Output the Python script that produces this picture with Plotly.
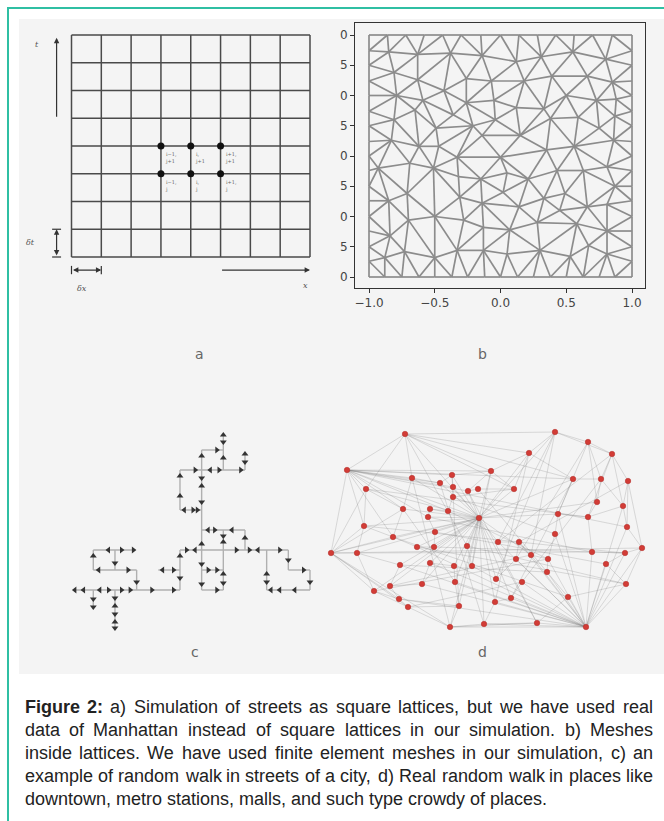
import plotly.graph_objects as go

W, H = 664, 821

# ---------------- panel a: space-time lattice ----------------
lattice_lines = [0, 1, 2, 3, 4, 5, 6, 7, 8]
node_i = [3, 4, 5, 3, 4, 5]
node_j = [4, 4, 4, 3, 3, 3]
node_text = ["i−1,<br>j+1", "i,<br>j+1", "i+1,<br>j+1", "i−1,<br>j", "i,<br>j", "i+1,<br>j"]

# ---------------- panel b: finite element mesh ----------------
mesh_top_x = [-1.0, -0.86, -0.72, -0.58, -0.44, -0.3, -0.15, 0.0, 0.14, 0.28, 0.42, 0.56, 0.7, 0.85, 1.0]
mesh_bottom_x = [-1.0, -0.88, -0.75, -0.62, -0.5, -0.37, -0.25, -0.12, 0.0, 0.13, 0.25, 0.38, 0.5, 0.63, 0.75, 0.87, 1.0]
mesh_left_y = [0.87, 0.75, 0.62, 0.5, 0.37, 0.25, 0.12, 0.0, -0.12, -0.25, -0.37, -0.5, -0.62, -0.75, -0.87]
mesh_right_y = [0.87, 0.75, 0.62, 0.5, 0.37, 0.25, 0.12, 0.0, -0.12, -0.25, -0.37, -0.5, -0.62, -0.75, -0.87]
mesh_inner_x = [
    -0.85, -0.63, -0.38, -0.14, 0.12, 0.31, 0.55, 0.80,
    -0.81, -0.63, -0.43, -0.26, -0.07, 0.18, 0.39, 0.66, 0.85,
    -0.79, -0.59, -0.26, -0.05, 0.12, 0.33, 0.50, 0.73, 0.88,
    -0.81, -0.65, -0.49, -0.36, -0.21, -0.04, 0.15, 0.38, 0.59, 0.75, 0.87,
    -0.83, -0.62, -0.47, -0.33, -0.14, 0.0, 0.35, 0.56, 0.86,
    -0.93, -0.69, -0.51, -0.32, -0.15, 0.05, 0.21, 0.43, 0.63, 0.81, 0.87,
    -0.85, -0.71, -0.50, -0.31, -0.14, 0.02, 0.14, 0.33, 0.49, 0.66, 0.81,
    -0.84, -0.70, -0.28, -0.13, 0.07, 0.28, 0.45, 0.58, 0.81,
    -0.88, -0.73, -0.50, -0.33, -0.13, 0.05, 0.30, 0.53, 0.67, 0.81,
]
mesh_inner_y = [
    0.86, 0.84, 0.85, 0.83, 0.78, 0.82, 0.86, 0.80,
    0.69, 0.63, 0.54, 0.64, 0.62, 0.62, 0.66, 0.66, 0.61,
    0.50, 0.46, 0.44, 0.46, 0.40, 0.39, 0.50, 0.46, 0.47,
    0.30, 0.38, 0.23, 0.34, 0.25, 0.30, 0.17, 0.31, 0.32, 0.23, 0.33,
    0.13, 0.08, 0.08, -0.01, 0.17, -0.01, 0.05, 0.08, 0.13,
    -0.10, -0.06, -0.10, -0.17, -0.19, -0.14, -0.19, -0.12, -0.12, -0.09, -0.25,
    -0.37, -0.31, -0.50, -0.34, -0.39, -0.30, -0.42, -0.35, -0.31, -0.42, -0.40,
    -0.66, -0.53, -0.53, -0.59, -0.61, -0.55, -0.45, -0.56, -0.62,
    -0.84, -0.79, -0.84, -0.78, -0.78, -0.81, -0.78, -0.83, -0.74, -0.81,
]
b_xticks = [-1.0, -0.5, 0.0, 0.5, 1.0]
b_xlabels = ["−1.0", "−0.5", "0.0", "0.5", "1.0"]
b_yticks = [1.0, 0.75, 0.5, 0.25, 0.0, -0.25, -0.5, -0.75, -1.0]
b_ylabels = ["0", "5", "0", "5", "0", "5", "0", "5", "0"]

# ---------------- panel c: lattice random walk ----------------
walk_x0 = [-0.85, 0, 1, 2, 0, 0, 0, 1, 3, 4, 4, 5, 5, 6, 4, 7, 4, 4, 5, 6, 7, 5, 5, 8, 8, 10, 9, 9]
walk_y0 = [0, 0, 0, 0, 1, 1, 2, 1, 1, 0, 2, 0, 7, 6, 6, 6, 4, 4, 3, 0, 2, 1, 0, 0, 0, 0, 1, 1]
walk_x1 = [4, 0, 1, 2, 2, 0, 1.85, 1, 4, 4, 9, 5, 6, 6, 7, 7, 4, 5, 7, 6, 7, 6, 6, 8, 10, 10, 10, 9]
walk_y1 = [0, -0.9, -1.9, 1, 1, 2, 2, 2, 1, 2, 2, 7, 7, 7.8, 6, 6.8, 6, 4, 3, 3, 3, 1, 0, 2, 0, 1, 1, 2]
arrow_x = [-0.85, -0.45, 0.3, 0.7, 1.3, 1.7, 2.7, 3.7,
           0, 0, 1, 1, 1, 1, 1, 2, 0.25, 1.6, 0, 0.7, 1.3, 1.85, 1,
           3.2, 3.7, 4, 4, 4.3, 4.7, 6.6, 7.2, 7.6, 8.6,
           5, 5, 5, 5, 5, 5, 5, 5.7, 6, 6, 6, 4.7, 5.4, 5.8, 6.8, 7, 7,
           4, 4, 4.2, 4.6, 4.8, 5.3, 5.6, 6.4, 6, 6, 6, 6, 7,
           5.3, 5.7, 5.7, 8, 8, 8.2, 8.6, 9.3, 10, 9.7, 9]
arrow_y = [0, 0, 0, 0, 0, 0, 0, 0,
           -0.45, -0.85, -0.4, -0.8, -1.2, -1.6, -1.9, 0.4, 1, 1, 1.7, 2, 2, 2, 1.35,
           1, 1, 0.6, 1.7, 2, 2, 2, 2, 2, 2,
           6.7, 5.6, 5.2, 4.4, 2.3, 1.3, 0.3, 7, 7.75, 7.4, 6.6, 6, 6, 6, 6, 6.4, 6.8,
           5.7, 4.7, 4, 4, 4, 3, 3, 3, 2.7, 2.4, 0.8, 0.35, 2.6,
           1, 1, 0, 0.8, 0.4, 0, 0, 0, 0.4, 1, 1.5]
arrow_dir = ["L", "L", "L", "R", "R", "R", "R", "R",
             "D", "D", "D", "U", "D", "U", "D", "D", "L", "R", "U", "L", "R", "R", "D",
             "L", "R", "D", "U", "R", "L", "R", "R", "L", "R",
             "U", "D", "U", "D", "U", "D", "D", "R", "U", "D", "U", "R", "L", "R", "R", "D", "U",
             "U", "U", "L", "R", "R", "L", "R", "L", "D", "U", "U", "D", "U",
             "R", "R", "R", "U", "D", "L", "L", "L", "D", "R", "D"]

# ---------------- panel d: crowd graph ----------------
place_x = [85, 235, 268, 209, 292, 27, 171, 132, 92, 253, 281, 308, 120, 133, 148, 158, 46, 194, 133, 277,
           83, 110, 128, 303, 108, 159, 238, 268, 44, 307, 115, 73, 235, 97, 114, 147, 178, 199, 11, 37,
           322, 272, 305, 211, 196, 228, 80, 110, 134, 152, 286, 227, 176, 135, 202, 102, 70, 306, 54, 79,
           175, 191, 248, 88, 139, 130, 164, 217, 266]
place_y = [34, 32, 42, 53, 54, 70, 71, 75, 78, 79, 79, 81, 83, 87, 91, 89, 89, 89, 97, 102,
           109, 109, 111, 106, 117, 118, 114, 117, 126, 127, 132, 137, 134, 147, 147, 146, 142, 142, 153, 153,
           148, 152, 153, 155, 159, 159, 165, 163, 166, 166, 164, 172, 179, 182, 182, 184, 186, 184, 191, 199,
           202, 198, 197, 207, 206, 227, 224, 223, 227]
hub_main = 25
hub_main_links = [0, 1, 3, 5, 6, 7, 8, 12, 13, 14, 16, 17, 20, 21, 24, 28, 30, 31, 33, 34, 35, 36, 38, 39,
                  43, 46, 47, 48, 49, 52, 53, 55, 56, 58, 60, 61, 64, 65, 66, 67, 19, 9, 26]
hub_corner = 68
hub_corner_links = [67, 62, 51, 45, 43, 44, 37, 36, 54, 61, 60, 52, 66, 65, 57, 50, 42, 41, 32, 26, 33, 46,
                    47, 53, 29, 23, 40, 59, 55]
hub_left = 5
hub_left_links = [0, 16, 28, 38, 7, 12, 8, 20, 31, 24, 6, 13, 14, 9, 22]
hub_far = 38
hub_far_links = [16, 28, 39, 58, 63, 31, 65, 59, 20]
extra_links = [
    (0, 1), (0, 6), (0, 3), (1, 2), (2, 4), (4, 11), (11, 40), (40, 57), (65, 66), (66, 67), (63, 65), (58, 63),
    (1, 36), (1, 43), (2, 26), (2, 19), (4, 10), (4, 27), (3, 17), (3, 9), (9, 10), (10, 23), (11, 23), (11, 29),
    (23, 29), (29, 40), (40, 42), (42, 50), (50, 57), (57, 62), (41, 27), (41, 42), (32, 26), (32, 45), (45, 51),
    (51, 62), (62, 67), (54, 61), (61, 60), (60, 66), (64, 65), (64, 53), (53, 48), (48, 47), (47, 55), (55, 56),
    (56, 59), (59, 63), (46, 56), (46, 39), (39, 28), (28, 16), (31, 20), (20, 8), (8, 12), (12, 7), (7, 13),
    (13, 18), (18, 22), (22, 21), (21, 24), (24, 30), (30, 34), (34, 33), (33, 31), (35, 49), (49, 52), (52, 44),
    (44, 37), (37, 43), (43, 45), (36, 37), (14, 15), (15, 17), (17, 6), (6, 3), (3, 1), (9, 26), (26, 27),
    (27, 19), (19, 10), (23, 27), (0, 9), (0, 17), (5, 29), (16, 27), (28, 42), (39, 41), (38, 40), (31, 62),
    (33, 57), (46, 51), (58, 45), (63, 54), (56, 43), (1, 52), (2, 44), (4, 36), (11, 37), (10, 54), (9, 61),
    (3, 60), (7, 64), (8, 65), (12, 66), (20, 53), (0, 35), (6, 49), (14, 67), (15, 51), (18, 32), (22, 45),
    (24, 41), (30, 50), (34, 42), (35, 57), (1, 4), (2, 10), (4, 23), (6, 7), (6, 14), (17, 18), (0, 8), (0, 16),
    (16, 20), (28, 31), (39, 58), (58, 59), (59, 64), (63, 64), (65, 67),
]

# ---------------- caption ----------------
caption_lines = [
    "Figure 2: a) Simulation of streets as square lattices, but we have used real",
    "data of Manhattan instead of square lattices in our simulation. b) Meshes",
    "inside lattices. We have used finite element meshes in our simulation, c) an",
    "example of random walk in streets of a city, d) Real random walk in places like",
    "downtown, metro stations, malls, and such type crowdy of places.",
]
caption_bold_words = 2
caption_baselines = [713, 736, 759, 782, 805]
panel_tags = ["a", "b", "c", "d"]
panel_tag_x = [193, 489, 189, 489]
panel_tag_y = [354, 354, 662, 662]


# ================= helpers =================
def xdom(lo, hi):
    return [lo / W, hi / W]


def ydom(top, bottom):
    return [1 - bottom / H, 1 - top / H]


def lin(p, p0, v0, p1, v1):
    return v0 + (p - p0) * (v1 - v0) / (p1 - p0)


def xrange_of(lo, hi, p0, v0, p1, v1):
    return [lin(lo, p0, v0, p1, v1), lin(hi, p0, v0, p1, v1)]


def yrange_of(top, bottom, p0, v0, p1, v1):
    return [lin(bottom, p0, v0, p1, v1), lin(top, p0, v0, p1, v1)]


def segments(x0, y0, x1, y1):
    xs, ys = [], []
    for a, b, c, d in zip(x0, y0, x1, y1):
        xs += [a, c, None]
        ys += [b, d, None]
    return xs, ys


def delaunay(points):
    """Bowyer-Watson triangulation, returns list of vertex-index triples."""
    n = len(points)
    pts = list(points) + [(-1e4, -1e4), (1e4, -1e4), (0.0, 1e4)]

    def in_circle(t, p):
        ax, ay = pts[t[0]]
        bx, by = pts[t[1]]
        cx, cy = pts[t[2]]
        adx, ady = ax - p[0], ay - p[1]
        bdx, bdy = bx - p[0], by - p[1]
        cdx, cdy = cx - p[0], cy - p[1]
        det = ((adx * adx + ady * ady) * (bdx * cdy - cdx * bdy)
               - (bdx * bdx + bdy * bdy) * (adx * cdy - cdx * ady)
               + (cdx * cdx + cdy * cdy) * (adx * bdy - bdx * ady))
        orient = (bx - ax) * (cy - ay) - (by - ay) * (cx - ax)
        return det * orient > 1e-12

    tris = {(n, n + 1, n + 2)}
    for i in range(n):
        p = pts[i]
        bad = [t for t in tris if in_circle(t, p)]
        count = {}
        for t in bad:
            for e in ((t[0], t[1]), (t[1], t[2]), (t[2], t[0])):
                k = tuple(sorted(e))
                count[k] = count.get(k, 0) + 1
        for t in bad:
            tris.discard(t)
        for (a, b), c in count.items():
            if c == 1:
                tris.add((a, b, i))
    return [t for t in tris if max(t) < n]


fig = go.Figure()

# ---------- panel a ----------
gx, gy = [], []
for v in lattice_lines:
    gx += [v, v, None]
    gy += [lattice_lines[0], lattice_lines[-1], None]
    gx += [lattice_lines[0], lattice_lines[-1], None]
    gy += [v, v, None]
fig.add_trace(go.Scatter(x=gx, y=gy, mode="lines", line=dict(color="#4a4a4a", width=1.5),
                         xaxis="x", yaxis="y", hoverinfo="skip", showlegend=False))
fig.add_trace(go.Scatter(x=node_i, y=node_j, mode="markers", marker=dict(color="#111", size=7),
                         xaxis="x", yaxis="y", hoverinfo="skip", showlegend=False))

# ---------- panel b ----------
mesh_pts = [(-1.0, 1.0), (1.0, 1.0), (-1.0, -1.0), (1.0, -1.0)]
mesh_pts += [(x, 1.0) for x in mesh_top_x[1:-1]]
mesh_pts += [(x, -1.0) for x in mesh_bottom_x[1:-1]]
mesh_pts += [(-1.0, y) for y in mesh_left_y]
mesh_pts += [(1.0, y) for y in mesh_right_y]
mesh_pts += list(zip(mesh_inner_x, mesh_inner_y))
edges = set()
for t in delaunay(mesh_pts):
    for e in ((t[0], t[1]), (t[1], t[2]), (t[2], t[0])):
        edges.add(tuple(sorted(e)))
mx, my = [], []
for a, b in sorted(edges):
    mx += [mesh_pts[a][0], mesh_pts[b][0], None]
    my += [mesh_pts[a][1], mesh_pts[b][1], None]
fig.add_trace(go.Scatter(x=mx, y=my, mode="lines", line=dict(color="#8c8c8c", width=1.7),
                         xaxis="x2", yaxis="y2", hoverinfo="skip", showlegend=False))

# ---------- panel c ----------
wx, wy = segments(walk_x0, walk_y0, walk_x1, walk_y1)
fig.add_trace(go.Scatter(x=wx, y=wy, mode="lines", line=dict(color="#b0b0b0", width=1.4),
                         xaxis="x3", yaxis="y3", hoverinfo="skip", showlegend=False))
dir_angle = {"U": 0, "R": 90, "D": 180, "L": 270}
fig.add_trace(go.Scatter(x=arrow_x, y=arrow_y, mode="markers",
                         marker=dict(symbol="triangle-up", size=6, color="#333",
                                     angle=[dir_angle[d] for d in arrow_dir]),
                         xaxis="x3", yaxis="y3", hoverinfo="skip", showlegend=False))

# ---------- panel d ----------
links = [(hub_main, k) for k in hub_main_links]
links += [(hub_corner, k) for k in hub_corner_links]
links += [(hub_left, k) for k in hub_left_links]
links += [(hub_far, k) for k in hub_far_links]
links += extra_links
lx, ly = [], []
for a, b in links:
    lx += [place_x[a], place_x[b], None]
    ly += [place_y[a], place_y[b], None]
fig.add_trace(go.Scatter(x=lx, y=ly, mode="lines", line=dict(color="rgba(120,120,120,0.30)", width=0.8),
                         xaxis="x4", yaxis="y4", hoverinfo="skip", showlegend=False))
fig.add_trace(go.Scatter(x=place_x, y=place_y, mode="markers",
                         marker=dict(color="#d23c36", size=5.5, line=dict(color="#b02a26", width=0.5)),
                         xaxis="x4", yaxis="y4", hoverinfo="skip", showlegend=False))

# ================= axes =================
hidden = dict(visible=False, showgrid=False, zeroline=False, fixedrange=True)

a_x = dict(domain=xdom(15, 335), range=xrange_of(15, 335, 71.5, 0, 310, 8), anchor="y", **hidden)
a_y = dict(domain=ydom(25, 300), range=yrange_of(25, 300, 257, 0, 35, 8), anchor="x", **hidden)

b_x = dict(domain=xdom(355, 645), range=xrange_of(355, 645, 369, -1, 632, 1), anchor="y2",
           showgrid=False, zeroline=False, showline=True, mirror=True, linecolor="#333", linewidth=1,
           ticks="outside", ticklen=4, tickcolor="#333", tickvals=b_xticks, ticktext=b_xlabels,
           tickfont=dict(family="DejaVu Sans", size=12, color="#444"), fixedrange=True)
b_y = dict(domain=ydom(23, 288), range=yrange_of(23, 288, 277, -1, 35, 1), anchor="x2",
           showgrid=False, zeroline=False, showline=True, mirror=True, linecolor="#333", linewidth=1,
           ticks="outside", ticklen=4, tickcolor="#333", tickvals=b_yticks, ticktext=b_ylabels,
           tickfont=dict(family="DejaVu Sans", size=12, color="#444"), fixedrange=True)

c_x = dict(domain=xdom(55, 325), range=xrange_of(55, 325, 93.3, 0, 310, 10), anchor="y3", **hidden)
c_y = dict(domain=ydom(420, 650), range=yrange_of(420, 650, 590, 0, 430, 8), anchor="x3", **hidden)

d_x = dict(domain=xdom(320, 655), range=xrange_of(320, 655, 320, 0, 650, 330), anchor="y4", **hidden)
d_y = dict(domain=ydom(395, 655), range=yrange_of(395, 655, 400, 0, 650, 250), anchor="x4", **hidden)

# ================= decorations =================
shapes = [
    dict(type="rect", xref="paper", yref="paper", x0=19 / W, x1=1, y0=1 - 674 / H, y1=1 - 19 / H,
         fillcolor="#f4f4f4", line=dict(width=0), layer="below"),
    dict(type="line", xref="paper", yref="paper", x0=7 / W, x1=1, y0=1 - 8 / H, y1=1 - 8 / H,
         line=dict(color="#2fbfa3", width=2)),
    dict(type="line", xref="paper", yref="paper", x0=8 / W, x1=8 / W, y0=0, y1=1 - 7 / H,
         line=dict(color="#2fbfa3", width=2)),
    # end bars of the delta-t and delta-x markers
    dict(type="line", xref="x", yref="y", x0=-0.65, x1=-0.35, y0=0, y1=0, line=dict(color="#333", width=1.2)),
    dict(type="line", xref="x", yref="y", x0=-0.65, x1=-0.35, y0=1, y1=1, line=dict(color="#333", width=1.2)),
    dict(type="line", xref="x", yref="y", x0=0, x1=0, y0=-0.62, y1=-0.32, line=dict(color="#333", width=1.2)),
    dict(type="line", xref="x", yref="y", x0=1, x1=1, y0=-0.62, y1=-0.32, line=dict(color="#333", width=1.2)),
]

annotations = []


def arrow(x, y, ax, ay, side="end"):
    annotations.append(dict(x=x, y=y, ax=ax, ay=ay, xref="x", yref="y", axref="x", ayref="y",
                            showarrow=True, arrowhead=2, arrowsize=0.9, arrowwidth=1.2,
                            arrowcolor="#333", arrowside=side, text=""))


arrow(-0.5, 7.9, -0.5, 5.0)
arrow(-0.5, 1.0, -0.5, 0.0, "end+start")
arrow(1.0, -0.47, 0.0, -0.47, "end+start")
arrow(8.0, -0.47, 5.0, -0.47)

small = dict(family="DejaVu Serif", size=8, color="#555")
for txt, x, y in [("<i>t</i>", -1.16, 7.64), ("<i>δt</i>", -1.36, 0.54),
                  ("<i>δx</i>", 0.35, -1.12), ("<i>x</i>", 7.84, -1.01)]:
    annotations.append(dict(x=x, y=y, xref="x", yref="y", text=txt, showarrow=False, font=small))

for i, j, txt in zip(node_i, node_j, node_text):
    annotations.append(dict(x=i, y=j, xref="x", yref="y", text=txt, showarrow=False,
                            xanchor="left", yanchor="top", xshift=2, yshift=-3, align="left",
                            font=dict(family="DejaVu Serif", size=5, color="#666")))

for tag, x, y in zip(panel_tags, panel_tag_x, panel_tag_y):
    annotations.append(dict(x=x / W, y=1 - y / H, xref="paper", yref="paper", text=tag, showarrow=False,
                            font=dict(family="DejaVu Sans", size=14, color="#666")))

# caption, justified word by word (Arial-compatible advance widths, 1/1000 em)
REG = {" ": 278, "a": 556, "b": 556, "c": 500, "d": 556, "e": 556, "f": 278, "g": 556, "h": 556,
       "i": 222, "j": 222, "k": 500, "l": 222, "m": 833, "n": 556, "o": 556, "p": 556, "q": 556,
       "r": 333, "s": 500, "t": 278, "u": 556, "v": 500, "w": 722, "x": 500, "y": 500, "z": 500,
       "M": 833, "R": 722, "W": 944, "S": 667, "F": 611, ",": 278, ".": 278, ":": 278, ")": 333,
       "(": 333, "2": 556}
BOLD = {"F": 611, "i": 278, "g": 611, "u": 611, "r": 389, "e": 556, "2": 556, ":": 333}
cap_size = 18
cap_left, cap_right = 23.5, 652


def word_width(w, bold):
    table = BOLD if bold else REG
    return sum(table.get(ch, 556) for ch in w) * cap_size / 1000


for li, (line, base) in enumerate(zip(caption_lines, caption_baselines)):
    words = line.split(" ")
    bolds = [li == 0 and k < caption_bold_words for k in range(len(words))]
    widths = [word_width(w, b) for w, b in zip(words, bolds)]
    if li < len(caption_lines) - 1:
        gap = (cap_right - cap_left - sum(widths)) / (len(words) - 1)
    else:
        gap = REG[" "] * cap_size / 1000
    xpos = cap_left
    for w, b, wd in zip(words, bolds, widths):
        annotations.append(dict(x=xpos / W, y=1 - (base - 6.2) / H, xref="paper", yref="paper",
                                text=f"<b>{w}</b>" if b else w, showarrow=False, xanchor="left",
                                yanchor="middle", borderpad=0,
                                font=dict(family="Liberation Sans, Arial", size=cap_size, color="#222")))
        xpos += wd + gap

fig.update_layout(
    width=W, height=H, margin=dict(l=0, r=0, t=0, b=0),
    paper_bgcolor="white", plot_bgcolor="rgba(0,0,0,0)",
    xaxis=a_x, yaxis=a_y, xaxis2=b_x, yaxis2=b_y, xaxis3=c_x, yaxis3=c_y, xaxis4=d_x, yaxis4=d_y,
    shapes=shapes, annotations=annotations, showlegend=False,
)

fig.write_html("out.html")
